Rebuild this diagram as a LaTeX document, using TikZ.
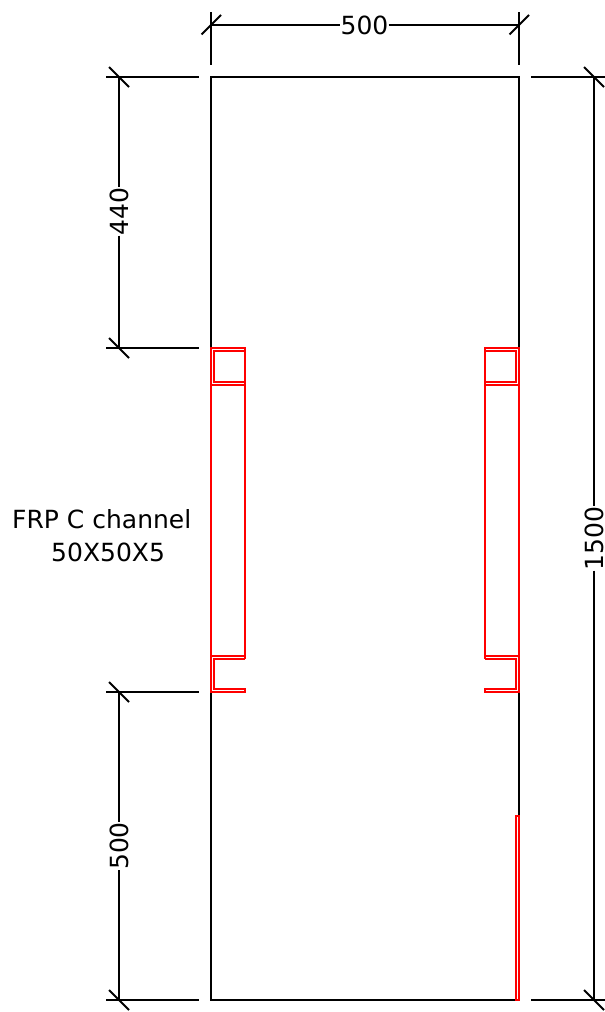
\documentclass[tikz,border=0pt]{standalone}
\usepackage{fontspec}
\setmainfont{DejaVu Sans}
\tikzset{
    wall/.style={draw=black, line width=2.2pt},
    dimline/.style={draw=black, line width=2pt},
    channel/.style={draw=red, line width=1.7pt},
    dimtext/.style={inner sep=0pt, font=\fontsize{25}{29}\selectfont}
}
\begin{document}
\begin{tikzpicture}[x=1pt, y=-1pt, line join=miter]
    \useasboundingbox (0,0) rectangle (605,1012);
    % Corner points of the panel
    \coordinate (tl) at (211,77);
    \coordinate (tr) at (519,77);
    \coordinate (bl) at (211,1000);
    \coordinate (br) at (519,1000);
    % Panel outline, broken where the channels sit
    \draw[wall] (211,348) -- (tl) -- (tr) -- (519,348);
    \draw[wall] (519,692) -- (519,816);
    \draw[wall] (211,692) -- (bl) -- (516,1000);
    % Left channels
    \draw[channel] (245,659) -- (245,348) -- (211,348) -- (211,692) -- (245,692) -- (245,689) -- (214,689) -- (214,659) -- (245,659);
    \draw[channel] (245,351) -- (214,351) -- (214,382) -- (245,382);
    \draw[channel] (211,385) -- (245,385);
    \draw[channel] (211,656) -- (245,656);
    % Right channels
    \draw[channel] (485,659) -- (485,348) -- (519,348) -- (519,692) -- (485,692) -- (485,689) -- (516,689) -- (516,659) -- (485,659);
    \draw[channel] (485,351) -- (516,351) -- (516,382) -- (485,382);
    \draw[channel] (519,385) -- (485,385);
    \draw[channel] (519,656) -- (485,656);
    % Red strip at the bottom right
    \draw[channel] (516,816) rectangle (519,1000);
    % Top dimension
    \coordinate (ta) at (211,25);
    \coordinate (tb) at (519,25);
    \node[dimtext] (topdim) at (364.5,25) {500};
    \draw[dimline] (ta) -- (topdim) -- (tb);
    \draw[dimline] (211,12) -- (211,65);
    \draw[dimline] (519,12) -- (519,65);
    \draw[dimline] (201.5,34.5) -- (221,15);
    \draw[dimline] (509.5,34.5) -- (529,15);
    % Left dimensions
    \coordinate (la) at (119,77);
    \coordinate (lb) at (119,348);
    \coordinate (lc) at (119,692);
    \coordinate (ld) at (119,1000);
    \node[dimtext, rotate=90] (upperdim) at (119,211.5) {440};
    \node[dimtext, rotate=90] (lowerdim) at (119,846) {500};
    \draw[dimline] (la) -- (upperdim) -- (lb);
    \draw[dimline] (lc) -- (lowerdim) -- (ld);
    \foreach \yy in {77,348,692,1000} {
        \draw[dimline] (106,\yy) -- (199,\yy);
        \draw[dimline] (109,\yy-10) -- (129,\yy+10);
    }
    % Right dimension
    \coordinate (ra) at (594,77);
    \coordinate (rb) at (594,1000);
    \node[dimtext, rotate=90] (rightdim) at (594,538.5) {1500};
    \draw[dimline] (ra) -- (rightdim) -- (rb);
    \foreach \yy in {77,1000} {
        \draw[dimline] (531,\yy) -- (605,\yy);
        \draw[dimline] (584,\yy-10) -- (604,\yy+10);
    }
    % Channel label
    \node[inner sep=0pt, align=left, anchor=west, font=\fontsize{25}{33}\selectfont] (label) at (12,536) {FRP C channel\\\hspace*{39pt}50X50X5};
\end{tikzpicture}
\end{document}
